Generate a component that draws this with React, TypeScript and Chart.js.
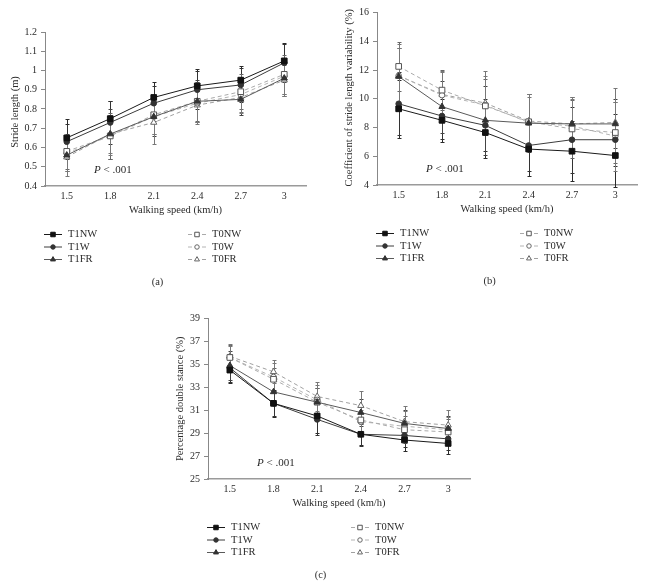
import React, { useEffect, useRef } from 'react';
import { Chart, registerables } from 'chart.js';
import { drawPoint } from 'chart.js/helpers';

Chart.register(...registerables);

const FONT = "'Liberation Serif', 'Times New Roman', serif";

// ---------- data ----------
const speeds = ['1.5', '1.8', '2.1', '2.4', '2.7', '3'];
const seriesNames = ['T1NW', 'T1W', 'T1FR', 'T0NW', 'T0W', 'T0FR'];
const xTitle = 'Walking speed (km/h)';

// (a) stride length (m)
const strideT1NW = [0.65, 0.75, 0.86, 0.92, 0.95, 1.05];
const strideT1W = [0.63, 0.73, 0.83, 0.9, 0.925, 1.04];
const strideT1FR = [0.56, 0.67, 0.76, 0.84, 0.85, 0.96];
const strideT0NW = [0.58, 0.66, 0.77, 0.84, 0.89, 0.98];
const strideT0W = [0.57, 0.66, 0.76, 0.83, 0.875, 0.97];
const strideT0FR = [0.55, 0.67, 0.73, 0.82, 0.86, 0.95];
const strideSdT1NW = [0.1, 0.09, 0.08, 0.09, 0.075, 0.095];
const strideSdT1W = [0.09, 0.11, 0.09, 0.1, 0.09, 0.1];
const strideSdT1FR = [0.08, 0.13, 0.1, 0.11, 0.08, 0.09];
const strideSdT0NW = [0.09, 0.12, 0.1, 0.1, 0.09, 0.1];
const strideSdT0W = [0.09, 0.1, 0.09, 0.1, 0.09, 0.09];
const strideSdT0FR = [0.1, 0.1, 0.11, 0.1, 0.08, 0.08];
const strideTicks = [0.4, 0.5, 0.6, 0.7, 0.8, 0.9, 1, 1.1, 1.2];

// (b) coefficient of stride length variability (%)
const cvT1NW = [9.3, 8.5, 7.65, 6.5, 6.35, 6.05];
const cvT1W = [9.65, 8.8, 8.15, 6.75, 7.15, 7.15];
const cvT1FR = [11.55, 9.45, 8.5, 8.3, 8.25, 8.25];
const cvT0NW = [12.25, 10.6, 9.5, 8.4, 7.9, 7.65];
const cvT0W = [11.6, 10.25, 9.55, 8.35, 8.1, 7.4];
const cvT0FR = [11.6, 10.3, 9.7, 8.45, 8.25, 8.35];
const cvSdT1NW = [2.0, 1.5, 1.8, 1.9, 2.1, 2.2];
const cvSdT1W = [2.2, 1.6, 1.8, 1.8, 2.3, 1.8];
const cvSdT1FR = [2.0, 1.8, 2.4, 2.0, 1.9, 1.7];
const cvSdT0NW = [1.7, 1.4, 1.9, 1.9, 2.0, 2.1];
const cvSdT0W = [1.9, 1.6, 2.0, 1.8, 1.9, 2.4];
const cvSdT0FR = [2.2, 1.6, 2.2, 1.9, 1.9, 2.4];
const cvTicks = [4, 6, 8, 10, 12, 14, 16];

// (c) percentage double stance (%)
const dsT1NW = [34.5, 31.6, 30.5, 28.9, 28.4, 28.1];
const dsT1W = [34.7, 31.6, 30.2, 28.9, 28.8, 28.5];
const dsT1FR = [34.9, 32.6, 31.7, 30.8, 29.85, 29.4];
const dsT0NW = [35.6, 33.7, 31.7, 30.15, 29.3, 29.1];
const dsT0W = [35.6, 33.9, 31.9, 30.0, 29.6, 29.3];
const dsT0FR = [35.7, 34.35, 32.2, 31.4, 30.0, 29.7];
const dsSdT1NW = [1.1, 1.2, 1.5, 0.9, 1.0, 0.9];
const dsSdT1W = [1.2, 1.1, 1.4, 1.0, 1.0, 1.0];
const dsSdT1FR = [1.3, 1.1, 1.2, 1.2, 1.2, 1.1];
const dsSdT0NW = [1.1, 1.0, 1.2, 1.1, 1.2, 1.1];
const dsSdT0W = [1.0, 1.2, 1.3, 1.0, 1.3, 1.1];
const dsSdT0FR = [1.1, 1.0, 1.3, 1.3, 1.4, 1.3];
const dsTicks = [25, 27, 29, 31, 33, 35, 37, 39];

// ---------- styles ----------
type SeriesStyle = {
  line: string; dash: number[]; pointStyle: string; radius: number;
  fill: string; stroke: string; err: string;
};
const STYLES: SeriesStyle[] = [
  { line: '#1a1a1a', dash: [], pointStyle: 'rect', radius: 4, fill: '#111', stroke: '#111', err: '#2a2a2a' },
  { line: '#3c3c3c', dash: [], pointStyle: 'circle', radius: 2.8, fill: '#333', stroke: '#333', err: '#333' },
  { line: '#5a5a5a', dash: [], pointStyle: 'triangle', radius: 3.6, fill: '#333', stroke: '#333', err: '#444' },
  { line: '#aaaaaa', dash: [4, 3], pointStyle: 'rect', radius: 4, fill: '#fff', stroke: '#555', err: '#666' },
  { line: '#b4b4b4', dash: [4, 3], pointStyle: 'circle', radius: 2.8, fill: '#fff', stroke: '#666', err: '#777' },
  { line: '#a0a0a0', dash: [4, 3], pointStyle: 'triangle', radius: 3.6, fill: '#fff', stroke: '#666', err: '#777' },
];

type Spec = {
  values: number[][];
  errors: number[][];
  ticks: number[];
  yTitle: string;
  caption: string;
  box: { left: number; top: number; width: number; height: number };
  area: { left: number; top: number; right: number; bottom: number };
  yTitleDx: number;
  yTitleDy: number;
};

const X_AXIS_H = 20;

const specs: Spec[] = [
  {
    values: [strideT1NW, strideT1W, strideT1FR, strideT0NW, strideT0W, strideT0FR],
    errors: [strideSdT1NW, strideSdT1W, strideSdT1FR, strideSdT0NW, strideSdT0W, strideSdT0FR],
    ticks: strideTicks,
    yTitle: 'Stride length (m)',
    caption: '(a)',
    box: { left: 0, top: 0, width: 320, height: 295 },
    area: { left: 45, top: 32, right: 306, bottom: 186 },
    yTitleDx: -30,
    yTitleDy: 3,
  },
  {
    values: [cvT1NW, cvT1W, cvT1FR, cvT0NW, cvT0W, cvT0FR],
    errors: [cvSdT1NW, cvSdT1W, cvSdT1FR, cvSdT0NW, cvSdT0W, cvSdT0FR],
    ticks: cvTicks,
    yTitle: 'Coefficient of stride length variability (%)',
    caption: '(b)',
    box: { left: 320, top: 0, width: 325, height: 295 },
    area: { left: 57, top: 12.5, right: 317, bottom: 185 },
    yTitleDx: -28,
    yTitleDy: -1,
  },
  {
    values: [dsT1NW, dsT1W, dsT1FR, dsT0NW, dsT0W, dsT0FR],
    errors: [dsSdT1NW, dsSdT1W, dsSdT1FR, dsSdT0NW, dsSdT0W, dsSdT0FR],
    ticks: dsTicks,
    yTitle: 'Percentage double stance (%)',
    caption: '(c)',
    box: { left: 140, top: 295, width: 380, height: 293 },
    area: { left: 68, top: 23.5, right: 330, bottom: 184 },
    yTitleDx: -28,
    yTitleDy: 0,
  },
];

function makeErrorBars(errors: number[][]) {
  return {
    id: 'errorBars',
    beforeDatasetsDraw(chart: any) {
      const ctx = chart.ctx;
      const ys = chart.scales.y;
      chart.data.datasets.forEach((ds: any, di: number) => {
        const meta = chart.getDatasetMeta(di);
        ctx.save();
        ctx.strokeStyle = STYLES[di].err;
        ctx.lineWidth = 1;
        meta.data.forEach((pt: any, i: number) => {
          const v = ds.data[i];
          const e = errors[di][i];
          const x = Math.round(pt.x) + 0.5;
          const y1 = Math.round(ys.getPixelForValue(v + e)) + 0.5;
          const y2 = Math.round(ys.getPixelForValue(v - e)) + 0.5;
          ctx.beginPath();
          ctx.moveTo(x, y1);
          ctx.lineTo(x, y2);
          ctx.moveTo(x - 2, y1);
          ctx.lineTo(x + 2, y1);
          ctx.moveTo(x - 2, y2);
          ctx.lineTo(x + 2, y2);
          ctx.stroke();
        });
        ctx.restore();
      });
    },
  };
}

function makeTexts(spec: Spec) {
  return {
    id: 'panelTexts',
    afterDraw(chart: any) {
      const ctx = chart.ctx;
      const a = chart.chartArea;
      ctx.save();
      ctx.fillStyle = '#2b2b2b';
      ctx.font = `10.5px ${FONT}`;
      // y title
      ctx.save();
      ctx.translate(a.left + spec.yTitleDx, (a.top + a.bottom) / 2 + spec.yTitleDy);
      ctx.rotate(-Math.PI / 2);
      ctx.textAlign = 'center';
      ctx.textBaseline = 'middle';
      ctx.fillText(spec.yTitle, 0, 0);
      ctx.restore();
      // x title
      ctx.textAlign = 'center';
      ctx.textBaseline = 'middle';
      ctx.fillText(xTitle, (a.left + a.right) / 2, a.bottom + 24);
      // P annotation
      const px = a.left + 49;
      const py = a.bottom - 16;
      ctx.textAlign = 'left';
      ctx.font = `italic 11px ${FONT}`;
      ctx.fillText('P', px, py);
      const pw = ctx.measureText('P').width;
      ctx.font = `11px ${FONT}`;
      ctx.fillText(' < .001', px + pw, py);
      // legend
      ctx.font = `10.5px ${FONT}`;
      const rowsY = [a.bottom + 48.5, a.bottom + 61, a.bottom + 73.5];
      seriesNames.forEach((name, i) => {
        const st = STYLES[i];
        const col = i < 3 ? 0 : 1;
        const y = rowsY[i % 3];
        const x0 = a.left + (col === 0 ? -1 : 143);
        const x1 = x0 + 18;
        const cx = (x0 + x1) / 2;
        ctx.save();
        ctx.strokeStyle = st.line;
        ctx.lineWidth = 1;
        ctx.beginPath();
        if (st.dash.length === 0) {
          ctx.moveTo(x0, y);
          ctx.lineTo(x1, y);
        } else {
          ctx.moveTo(x0, y);
          ctx.lineTo(x0 + 4, y);
          ctx.moveTo(x1 - 4, y);
          ctx.lineTo(x1, y);
        }
        ctx.stroke();
        ctx.fillStyle = st.fill;
        ctx.strokeStyle = st.stroke;
        drawPoint(ctx, { pointStyle: st.pointStyle as any, radius: st.radius * 0.8, rotation: 0, borderWidth: 1 } as any, cx, y);
        ctx.restore();
        ctx.fillStyle = '#2b2b2b';
        ctx.textAlign = 'left';
        ctx.textBaseline = 'middle';
        ctx.fillText(name, a.left + (col === 0 ? 23 : 167), y);
      });
      // caption
      ctx.textAlign = 'center';
      ctx.fillText(spec.caption, a.left + 112.5, a.bottom + 96);
      ctx.restore();
    },
  };
}

function Panel({ spec }: { spec: Spec }) {
  const ref = useRef<HTMLCanvasElement | null>(null);
  useEffect(() => {
    if (!ref.current) return;
    const { box, area, ticks } = spec;
    const datasets = spec.values.map((vals, i) => {
      const st = STYLES[i];
      return {
        label: seriesNames[i],
        data: vals,
        borderColor: st.line,
        borderWidth: 1,
        borderDash: st.dash,
        pointStyle: st.pointStyle,
        pointRadius: st.radius,
        pointBackgroundColor: st.fill,
        pointBorderColor: st.stroke,
        pointBorderWidth: 1,
        fill: false,
        tension: 0,
      };
    });
    const chart = new Chart(ref.current, {
      type: 'line',
      data: { labels: speeds, datasets: datasets as any },
      options: {
        responsive: false,
        animation: false,
        devicePixelRatio: 1,
        layout: {
          padding: {
            left: 0,
            top: area.top,
            right: box.width - area.right,
            bottom: box.height - area.bottom - X_AXIS_H,
          },
        },
        plugins: { legend: { display: false }, tooltip: { enabled: false } },
        scales: {
          x: {
            type: 'category',
            offset: true,
            grid: { display: false, drawTicks: false },
            border: { display: true, color: '#9a9a9a', width: 1.5 },
            ticks: { font: { family: FONT, size: 10 }, color: '#2b2b2b', padding: 4, maxRotation: 0 },
            afterFit: (s: any) => { s.height = X_AXIS_H; },
          },
          y: {
            type: 'linear',
            min: ticks[0],
            max: ticks[ticks.length - 1],
            grid: { display: true, drawOnChartArea: false, drawTicks: true, tickLength: 4, color: '#888' },
            border: { display: true, color: '#888', width: 1 },
            ticks: {
              font: { family: FONT, size: 10 },
              color: '#2b2b2b',
              padding: 4,
              callback: (v: any) => String(v),
            },
            afterBuildTicks: (s: any) => { s.ticks = ticks.map((v) => ({ value: v })); },
            afterFit: (s: any) => { s.width = area.left; },
          },
        },
      } as any,
      plugins: [makeErrorBars(spec.errors), makeTexts(spec)],
    });
    return () => chart.destroy();
  }, [spec]);
  const { box } = spec;
  return (
    <canvas
      ref={ref}
      width={box.width}
      height={box.height}
      style={{ position: 'absolute', left: box.left, top: box.top, width: box.width, height: box.height }}
    />
  );
}

export default function App() {
  return (
    <div style={{ position: 'absolute', left: 0, top: 0, width: 645, height: 588, background: '#fff' }}>
      {specs.map((s, i) => (
        <Panel key={i} spec={s} />
      ))}
    </div>
  );
}
